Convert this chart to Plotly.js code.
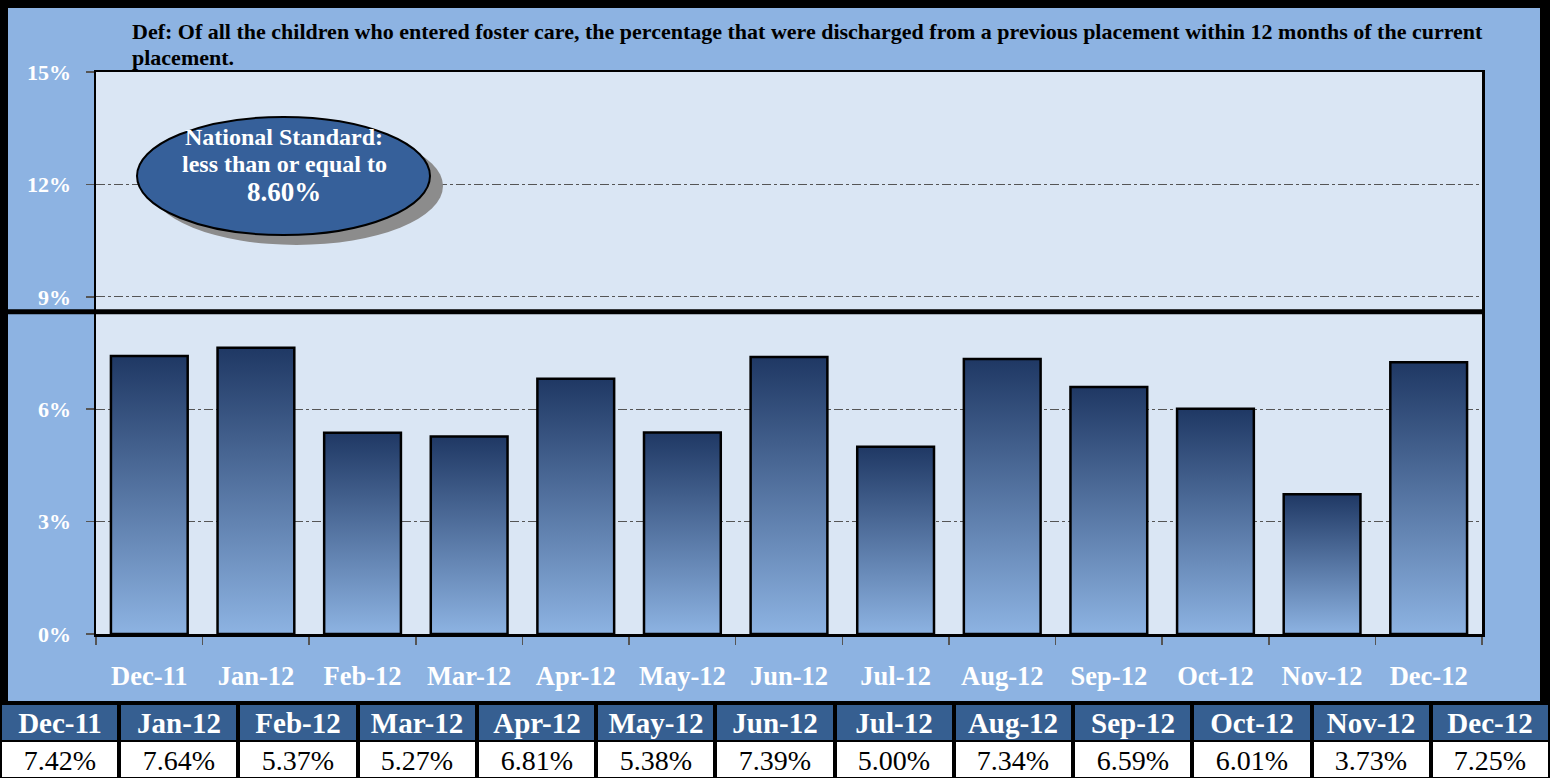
<!DOCTYPE html>
<html><head><meta charset="utf-8">
<script src="https://cdn.plot.ly/plotly-3.0.1.min.js"></script>
<style>html,body{margin:0;padding:0;background:#000;overflow:hidden}#chart{width:1550px;height:778px}</style>
</head><body><div id="chart"></div>
<script>
const months = ['Dec-11','Jan-12','Feb-12','Mar-12','Apr-12','May-12','Jun-12','Jul-12','Aug-12','Sep-12','Oct-12','Nov-12','Dec-12'];
const rates = [7.42,7.64,5.37,5.27,6.81,5.38,7.39,5.00,7.34,6.59,6.01,3.73,7.25];
const yTickVals = [0,3,6,9,12,15];
const yTickText = ['0%','3%','6%','9%','12%','15%'];
const nationalStandard = 8.6;
const titleLines = ['Def: Of all the children who entered foster care, the percentage that were discharged from a previous placement within 12 months of the current', 'placement.'];
const standardLines = ['National Standard:', 'less than or equal to', '8.60%'];

const W = 1550, H = 778;
const px = v => v / W;
const py = v => 1 - v / H;
const serif = 'Liberation Serif, Times New Roman, serif';
const half = 0.36;
const idx = months.map((m, i) => i);

const traces = rates.map((v, i) => ({
  type: 'scatter', mode: 'lines',
  x: [i - half, i - half, i + half, i + half, i - half],
  y: [0, v, v, 0, 0],
  fill: 'toself',
  fillgradient: {type: 'vertical', colorscale: [[0, '#8DB3E2'], [1, '#1F3864']]},
  line: {color: '#000', width: 2.5},
  hoverinfo: 'skip', showlegend: false
}));

// data table under the chart: header row (months) and value row (rates)
traces.push({
  type: 'heatmap', xaxis: 'x2', yaxis: 'y2',
  x: idx, y: [1], z: [months.map(() => 0)], zmin: 0, zmax: 1,
  colorscale: [[0, '#365F91'], [1, '#365F91']], showscale: false,
  xgap: 4, ygap: 2,
  text: [months], texttemplate: '<b>%{text}</b>',
  textfont: {family: serif, size: 29, color: '#fff'},
  hoverinfo: 'skip'
});
traces.push({
  type: 'heatmap', xaxis: 'x2', yaxis: 'y2',
  x: idx, y: [0], z: [rates.map(() => 1)], zmin: 0, zmax: 1,
  colorscale: [[0, '#ffffff'], [1, '#ffffff']], showscale: false,
  xgap: 4, ygap: 2,
  text: [rates.map(v => v.toFixed(2) + '%')], texttemplate: '%{text}',
  textfont: {family: serif, size: 28, color: '#000'},
  hoverinfo: 'skip'
});

const layout = {
  width: W, height: H,
  margin: {l: 0, r: 0, t: 0, b: 0},
  paper_bgcolor: '#000',
  plot_bgcolor: 'rgba(0,0,0,0)',
  showlegend: false,
  xaxis: {
    domain: [px(96), px(1482)],
    range: [-0.5, rates.length - 0.5],
    tickmode: 'array',
    tickvals: idx,
    ticktext: months,
    ticks: '',
    tickfont: {family: serif, size: 26.5, color: '#fff', weight: 700},
    ticklabelstandoff: 17,
    showgrid: false, zeroline: false,
    showline: true, mirror: true, linecolor: '#000', linewidth: 2.5,
    minor: {tickmode: 'array', tickvals: idx.map(i => i - 0.5).concat([rates.length - 0.5]), ticks: 'outside', ticklen: 8, tickcolor: '#555', tickwidth: 1.5, showgrid: false},
    fixedrange: true
  },
  yaxis: {
    domain: [1 - 634 / H, 1 - 72 / H],
    range: [0, 15],
    tickmode: 'array',
    tickvals: yTickVals, ticktext: yTickText,
    ticks: 'outside', ticklen: 8, tickcolor: '#555', tickwidth: 1.5,
    tickfont: {family: serif, size: 22, color: '#fff', weight: 700},
    ticklabelstandoff: 10,
    showgrid: true, gridcolor: '#555', griddash: 'dashdot', gridwidth: 1,
    zeroline: false,
    showline: true, mirror: true, linecolor: '#000', linewidth: 2.5,
    fixedrange: true
  },
  xaxis2: {
    domain: [0, 1], anchor: 'y2', range: [-0.5, rates.length - 0.5],
    visible: false, fixedrange: true
  },
  yaxis2: {
    domain: [0, py(704)], anchor: 'x2', range: [-0.5, 1.5],
    visible: false, fixedrange: true
  },
  shapes: [
    {type: 'rect', xref: 'paper', yref: 'paper', x0: px(8), x1: px(1540), y0: py(701), y1: py(8), fillcolor: '#8DB3E2', line: {width: 0}, layer: 'below'},
    {type: 'rect', xref: 'paper', yref: 'paper', x0: px(96), x1: px(1482), y0: py(634), y1: py(72), fillcolor: '#DAE6F4', line: {width: 0}, layer: 'below'},
    {type: 'line', xref: 'paper', yref: 'y', x0: px(8), x1: px(1482), y0: nationalStandard, y1: nationalStandard, line: {color: '#000', width: 5}},
    {type: 'circle', xref: 'paper', yref: 'paper', x0: px(150), x1: px(443), y0: py(245), y1: py(127), fillcolor: '#8C8C8C', line: {width: 0}},
    {type: 'circle', xref: 'paper', yref: 'paper', x0: px(137), x1: px(430), y0: py(235), y1: py(117), fillcolor: '#36609A', line: {color: '#000', width: 2}}
  ],
  annotations: titleLines.map((t, k) => ({
    xref: 'paper', yref: 'paper', x: px(130), y: py([31, 57][k]),
    xanchor: 'left', yanchor: 'middle',
    text: t, showarrow: false,
    font: {family: serif, size: 22, color: '#000', weight: 700}
  })).concat(standardLines.map((t, k) => ({
    xref: 'paper', yref: 'paper', x: px(284), y: py([137, 164, 192][k]),
    xanchor: 'center', yanchor: 'middle',
    text: t, showarrow: false,
    font: {family: serif, size: k === 2 ? 27 : 24, color: '#fff', weight: 700}
  })))
};

Plotly.newPlot('chart', traces, layout, {displayModeBar: false, staticPlot: true});
</script>
</body></html>
